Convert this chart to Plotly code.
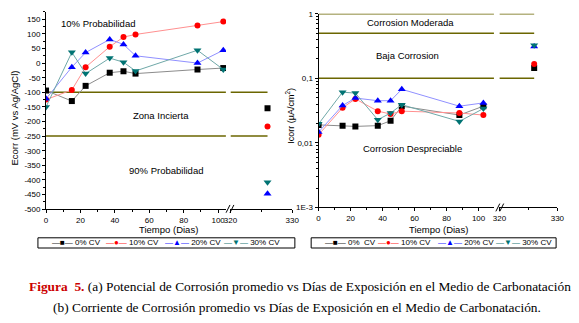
import plotly.graph_objects as go

W, H = 579, 323


def fx(px):
    return px / W


def fy(py):
    return 1 - py / H


# ---------------- data ----------------
days = [0, 15, 23, 37, 45, 52, 88, 103]
late_day = [326]
series_names = ['0% CV', '10% CV', '20% CV', '30% CV']
series_names_b = ['0%  CV', '10% CV', '20% CV', '30% CV']

ecorr_0 = [-94, -130, -78, -33, -28, -36, -22, -17]
ecorr_10 = [-125, -92, -14, 56, 89, 98, 129, 142]
ecorr_20 = [-122, -14, 36, 81, 64, 25, 0, 44]
ecorr_30 = [-150, 37, -36, 17, 3, -27, 44, -22]
ecorr_late = [-155, -217, -447, -408]

icorr_0 = [0.019, 0.0185, 0.018, 0.0185, 0.022, 0.037, 0.027, 0.037]
icorr_10 = [0.0134, 0.035, 0.048, 0.031, 0.028, 0.031, 0.029, 0.027]
icorr_20 = [0.0147, 0.038, 0.0495, 0.045, 0.045, 0.0676, 0.037, 0.0416]
icorr_30 = [0.0197, 0.061, 0.059, 0.0228, 0.029, 0.039, 0.0215, 0.034]
icorr_late = [0.145, 0.167, 0.31, 0.326]

ecorr_limits = [-100, -250]
icorr_limits = [1, 0.5, 0.1]

ecorr_ticks = list(range(-500, 151, 50))
ecorr_ticktext = [str(v) for v in ecorr_ticks]
icorr_ticks = [0.001, 0.01, 0.1, 1]
icorr_ticktext = ['1E-3', '0,01', '0,1', '1']
day_ticks_a = [0, 20, 40, 60, 80, 100]
day_ticks_b = [320, 330]

# ---------------- styles ----------------
marker_colors = ['#000000', '#ff0000', '#0000ff', '#007373']
line_colors = ['#8c8c8c', '#ff9090', '#9090ff', '#6fa8a8']
symbols = ['square', 'circle', 'triangle-up', 'triangle-down']
glyphs = ['■', '●', '▲', '▼']
msizes = [6, 6, 7, 7]
OLIVE = '#6b6600'
FONT = 'Liberation Sans, Arial, sans-serif'
SERIF = 'Liberation Serif, Times New Roman, serif'

ecorr_sets = [ecorr_0, ecorr_10, ecorr_20, ecorr_30]
icorr_sets = [icorr_0, icorr_10, icorr_20, icorr_30]

fig = go.Figure()

for i in range(4):
    mk = dict(symbol=symbols[i], size=msizes[i], color=marker_colors[i], line=dict(width=0))
    fig.add_trace(go.Scatter(x=days, y=ecorr_sets[i], mode='lines+markers', name=series_names[i],
                             xaxis='x', yaxis='y', showlegend=False,
                             line=dict(color=line_colors[i], width=1), marker=mk))
    fig.add_trace(go.Scatter(x=late_day, y=[ecorr_late[i]], mode='markers', showlegend=False,
                             name=series_names[i], xaxis='x2', yaxis='y', marker=mk))
for i in range(4):
    mk = dict(symbol=symbols[i], size=msizes[i], color=marker_colors[i], line=dict(width=0))
    fig.add_trace(go.Scatter(x=days, y=icorr_sets[i], mode='lines+markers', name=series_names_b[i],
                             xaxis='x3', yaxis='y2', showlegend=False,
                             line=dict(color=line_colors[i], width=1), marker=mk))
    fig.add_trace(go.Scatter(x=late_day, y=[icorr_late[i]], mode='markers', showlegend=False,
                             name=series_names_b[i], xaxis='x4', yaxis='y2', marker=mk))

shapes = []
for v in ecorr_limits:
    shapes.append(dict(type='line', xref='x', yref='y', x0=0, x1=104.5, y0=v, y1=v,
                       line=dict(color=OLIVE, width=1.5), layer='below'))
    shapes.append(dict(type='line', xref='x2', yref='y', x0=320, x1=326, y0=v, y1=v,
                       line=dict(color=OLIVE, width=1.5), layer='below'))
for v in icorr_limits:
    shapes.append(dict(type='line', xref='x3', yref='y2', x0=0, x1=110, y0=v, y1=v,
                       line=dict(color=OLIVE, width=1.5), layer='below'))
    shapes.append(dict(type='line', xref='x4', yref='y2', x0=320, x1=326, y0=v, y1=v,
                       line=dict(color=OLIVE, width=1.5), layer='below'))

# axis break marks
for bx, by in [(224.5, 210.7), (501, 209.3)]:
    for dx in (0, 4):
        shapes.append(dict(type='line', xref='paper', yref='paper',
                           x0=fx(bx + dx), y0=fy(by + 4), x1=fx(bx + dx + 4), y1=fy(by - 4),
                           line=dict(color='black', width=1)))

# legend boxes
for x0, x1 in [(31.7, 295), (311.7, 562.7)]:
    shapes.append(dict(type='rect', xref='paper', yref='paper', x0=fx(x0), x1=fx(x1),
                       y0=fy(251), y1=fy(240.5), line=dict(color='black', width=1),
                       fillcolor='white'))

common_x = dict(showline=True, linecolor='black', linewidth=1, showgrid=False, zeroline=False,
                ticks='outside', ticklen=3, tickcolor='black', tickwidth=1,
                tickfont=dict(size=8, family=FONT, color='black'), fixedrange=True)

logminor = [m * 10 ** e for e in (-3, -2, -1) for m in range(2, 10)]

fig.update_layout(
    width=W, height=H,
    margin=dict(l=0, r=0, t=0, b=0),
    paper_bgcolor='white', plot_bgcolor='white',
    font=dict(family=FONT, size=8, color='black'),
    showlegend=False,
    xaxis=dict(domain=[fx(40), fx(224.3)], range=[0, 104.5], anchor='y',
               tickmode='array', tickvals=day_ticks_a,
               minor=dict(tickmode='array', tickvals=[10, 30, 50, 70, 90], ticks='outside', ticklen=2,
                          tickcolor='black'),
               **common_x),
    xaxis2=dict(domain=[fx(229), fx(292.3)], range=[320, 330], anchor='y',
                tickmode='array', tickvals=day_ticks_b,
                minor=dict(tickmode='array', tickvals=[325], ticks='outside', ticklen=2, tickcolor='black'),
                **common_x),
    yaxis=dict(domain=[fy(211), fy(8.2)], range=[-500, 175], anchor='x',
               tickmode='array', tickvals=ecorr_ticks, ticktext=ecorr_ticktext,
               minor=dict(tickmode='array', tickvals=[v + 25 for v in ecorr_ticks], ticks='outside',
                          ticklen=2, tickcolor='black'),
               **common_x),
    xaxis3=dict(domain=[fx(319.3), fx(499)], range=[0, 109.6], anchor='y2',
                tickmode='array', tickvals=day_ticks_a,
                minor=dict(tickmode='array', tickvals=[10, 30, 50, 70, 90], ticks='outside', ticklen=2,
                           tickcolor='black'),
                **common_x),
    xaxis4=dict(domain=[fx(504.6), fx(564)], range=[320, 330], anchor='y2',
                tickmode='array', tickvals=day_ticks_b,
                minor=dict(tickmode='array', tickvals=[325], ticks='outside', ticklen=2, tickcolor='black'),
                **common_x),
    yaxis2=dict(domain=[fy(209.3), fy(10)], type='log', range=[-3, 0], anchor='x3',
                tickmode='array', tickvals=icorr_ticks, ticktext=icorr_ticktext,
                minor=dict(tickmode='array', tickvals=logminor, ticks='outside', ticklen=2,
                           tickcolor='black'),
                **common_x),
    shapes=shapes,
)

ann = []


def txt(x, y, s, size=9.5, angle=0, family=FONT, xanchor='center'):
    ann.append(dict(x=fx(x), y=fy(y), xref='paper', yref='paper', text=s, showarrow=False,
                    xanchor=xanchor, yanchor='middle', textangle=angle, borderpad=0,
                    font=dict(size=size, family=family, color='black')))


txt(93, 20, '10% Probabilidad')
txt(158, 115, 'Zona Incierta')
txt(163, 171, '90% Probabilidad')
txt(413.7, 19, 'Corrosion Moderada')
txt(410.8, 53, 'Baja Corrosion')
txt(415.5, 149, 'Corrosion Despreciable')
txt(166, 232, 'Tiempo (Dias)', size=9.5)
txt(441.7, 232, 'Tiempo (Dias)', size=9.5)
txt(8, 117, 'Ecorr (mV vs Ag/AgCl)', size=9.5, angle=-90)
txt(290, 115, 'Icorr (µA/cm<sup>2</sup>)', size=9, angle=-90)

# legends (text glyphs inside boxes)
left_item_x = [45, 100, 161, 221]
right_item_x = [325, 379, 441, 500]
for names, xs in [(series_names, left_item_x), (series_names_b, right_item_x)]:
    for i in range(4):
        ann.append(dict(x=fx(xs[i]), y=fy(245.8), xref='paper', yref='paper', showarrow=False,
                        xanchor='left', yanchor='middle', borderpad=0,
                        text=f'<span style="color:{marker_colors[i]}">—{glyphs[i]}—</span> '
                             + names[i].replace('  ', '&nbsp; '),
                        font=dict(size=8, family=FONT, color='black')))

ann.append(dict(x=fx(21), y=fy(290.5), xref='paper', yref='paper', showarrow=False,
                xanchor='left', yanchor='middle',
                text='<b><span style="color:#cc0000">Figura&nbsp; 5.</span></b> (a) Potencial de Corrosión promedio vs Días de Exposición en el Medio de Carbonatación',
                font=dict(size=13.4, family=SERIF, color='black')))
ann.append(dict(x=fx(45), y=fy(312.5), xref='paper', yref='paper', showarrow=False,
                xanchor='left', yanchor='middle',
                text='(b) Corriente de Corrosión promedio vs Días de Exposición en el Medio de Carbonatación.',
                font=dict(size=13.4, family=SERIF, color='black')))

fig.update_layout(annotations=ann)

fig.write_html('out.html', config={'displayModeBar': False},
               post_script="document.body.style.margin='0';document.body.style.padding='0';"
                           "document.body.style.overflow='hidden';")
